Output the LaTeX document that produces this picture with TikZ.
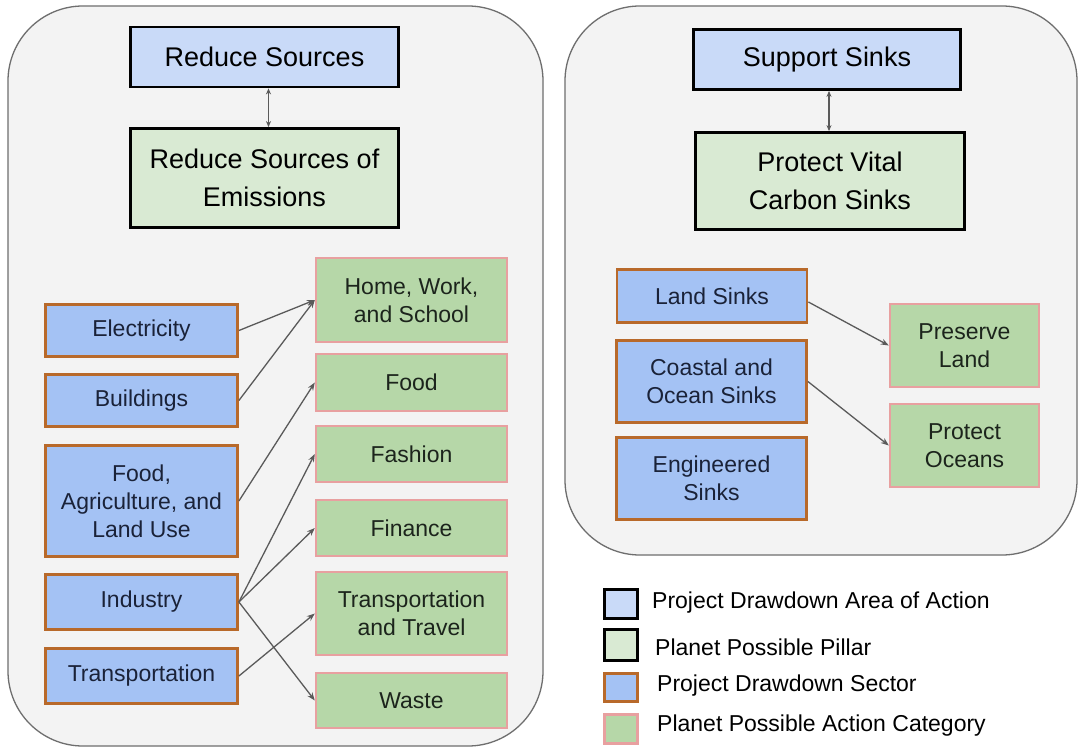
\documentclass[tikz,border=0pt]{standalone}
\usepackage{fontspec}
\setmainfont{Liberation Sans}
\usetikzlibrary{arrows.meta,calc}
\definecolor{paneFill}{HTML}{F3F3F3}
\definecolor{paneEdge}{HTML}{6E6E6E}
\definecolor{areaBlue}{HTML}{C9DAF8}
\definecolor{pillarGreen}{HTML}{D9EAD3}
\definecolor{sectorBlue}{HTML}{A4C2F4}
\definecolor{sectorEdge}{HTML}{B8692A}
\definecolor{catGreen}{HTML}{B6D7A8}
\definecolor{catEdge}{HTML}{E8A0A0}
\definecolor{sectorText}{HTML}{1A2238}
\definecolor{catText}{HTML}{1C241C}
\definecolor{linkGray}{HTML}{5A5A5A}
\tikzset{
  base/.style={rectangle, align=center, inner sep=2pt},
  titlefont/.style={font=\fontsize{27}{38}\selectfont},
  bodyfont/.style={font=\fontsize{23}{28}\selectfont},
  area/.style={base, titlefont, fill=areaBlue, draw=black, line width=2.8pt, text=black},
  pillar/.style={base, titlefont, fill=pillarGreen, draw=black, line width=2.8pt, text=black},
  sector/.style={base, bodyfont, fill=sectorBlue, draw=sectorEdge, line width=2.8pt, text=sectorText},
  category/.style={base, bodyfont, fill=catGreen, draw=catEdge, line width=2.4pt, text=catText},
  pane/.style={fill=paneFill, draw=paneEdge, line width=1.3pt, rounded corners=75pt},
  link/.style={draw=linkGray, line width=1.3pt, -{Stealth[length=8pt,width=6pt]}},
  duallink/.style={draw=linkGray, line width=1.3pt, {Stealth[length=6pt,width=5pt]}-{Stealth[length=6pt,width=5pt]}},
  legtext/.style={anchor=west, bodyfont, text=black, inner sep=0pt},
}
\begin{document}
\begin{tikzpicture}[x=1pt,y=-1pt]
\useasboundingbox (0,0) rectangle (1079,752);
\fill[white] (0,0) rectangle (1079,752);
% panels
\draw[pane] (8,6) rectangle (543,746);
\draw[pane] (565,6) rectangle (1077,555);

% left panel
\node[area, minimum width=268pt, minimum height=60pt] (rs) at (264.5,57) {Reduce Sources};
\node[pillar, minimum width=268pt, minimum height=99pt] (rse) at (264.5,178) {Reduce Sources of\\Emissions};
\draw[duallink] ([xshift=4pt]rs.south) -- ([xshift=4pt]rs.south |- rse.north);

\node[sector, minimum width=192pt, minimum height=52pt] (elec) at (141.5,330.5) {Electricity};
\node[sector, minimum width=192pt, minimum height=52pt] (bldg) at (141.5,400.5) {Buildings};
\node[sector, minimum width=192pt, minimum height=111pt] (fal) at (141.5,501) {Food,\\Agriculture, and\\Land Use};
\node[sector, minimum width=192pt, minimum height=55pt] (ind) at (141.5,602) {Industry};
\node[sector, minimum width=192pt, minimum height=55pt] (trn) at (141.5,676) {Transportation};

\node[category, minimum width=191pt, minimum height=84pt] (home) at (411.5,300) {Home, Work,\\and School};
\node[category, minimum width=191pt, minimum height=57pt] (food) at (411.5,382.5) {Food};
\node[category, minimum width=191pt, minimum height=56pt] (fash) at (411.5,454) {Fashion};
\node[category, minimum width=191pt, minimum height=56pt] (fin) at (411.5,528) {Finance};
\node[category, minimum width=191pt, minimum height=83pt] (tt) at (411.5,613.5) {Transportation\\and Travel};
\node[category, minimum width=191pt, minimum height=55pt] (waste) at (411.5,700.5) {Waste};

\draw[link] (elec.east) -- (home.west);
\draw[link] (bldg.east) -- (home.west);
\draw[link] (fal.east) -- (food.west);
\draw[link] (ind.east) -- (fash.west);
\draw[link] (ind.east) -- (fin.west);
\draw[link] (ind.east) -- (waste.west);
\draw[link] (trn.east) -- (tt.west);

% right panel
\node[area, minimum width=267pt, minimum height=60pt] (ss) at (827,59.5) {Support Sinks};
\node[pillar, minimum width=269pt, minimum height=97pt] (pvcs) at (830,181) {Protect Vital\\Carbon Sinks};
\draw[duallink] ([xshift=2pt]ss.south) -- ([xshift=2pt]ss.south |- pvcs.north);

\node[sector, minimum width=190pt, minimum height=53pt] (land) at (712,296) {Land Sinks};
\node[sector, minimum width=190pt, minimum height=82pt] (coast) at (711.5,381.5) {Coastal and\\Ocean Sinks};
\node[sector, minimum width=190pt, minimum height=82pt] (eng) at (711.5,478.5) {Engineered\\Sinks};

\node[category, minimum width=149pt, minimum height=83pt] (pres) at (964.5,345.5) {Preserve\\Land};
\node[category, minimum width=149pt, minimum height=83pt] (ocean) at (964.5,445.5) {Protect\\Oceans};

\draw[link] ([yshift=-6pt]land.east) -- (pres.west);
\draw[link] (coast.east) -- (ocean.west);

% legend
\node[base, fill=areaBlue, draw=black, line width=2.8pt, minimum width=33pt, minimum height=29pt, inner sep=0pt] (lg1) at (621,604) {};
\node[base, fill=pillarGreen, draw=black, line width=2.8pt, minimum width=33pt, minimum height=31pt, inner sep=0pt] (lg2) at (621,645) {};
\node[base, fill=sectorBlue, draw=sectorEdge, line width=2.8pt, minimum width=33pt, minimum height=28pt, inner sep=0pt] (lg3) at (621,687.5) {};
\node[base, fill=catGreen, draw=catEdge, line width=2.4pt, minimum width=33pt, minimum height=29pt, inner sep=0pt] (lg4) at (621,729) {};
\node[legtext] (lt1) at (652,603) {Project Drawdown Area of Action};
\node[legtext] (lt2) at (655,647) {Planet Possible Pillar};
\node[legtext] (lt3) at (657,686) {Project Drawdown Sector};
\node[legtext] (lt4) at (657,726) {Planet Possible Action Category};
\end{tikzpicture}
\end{document}
